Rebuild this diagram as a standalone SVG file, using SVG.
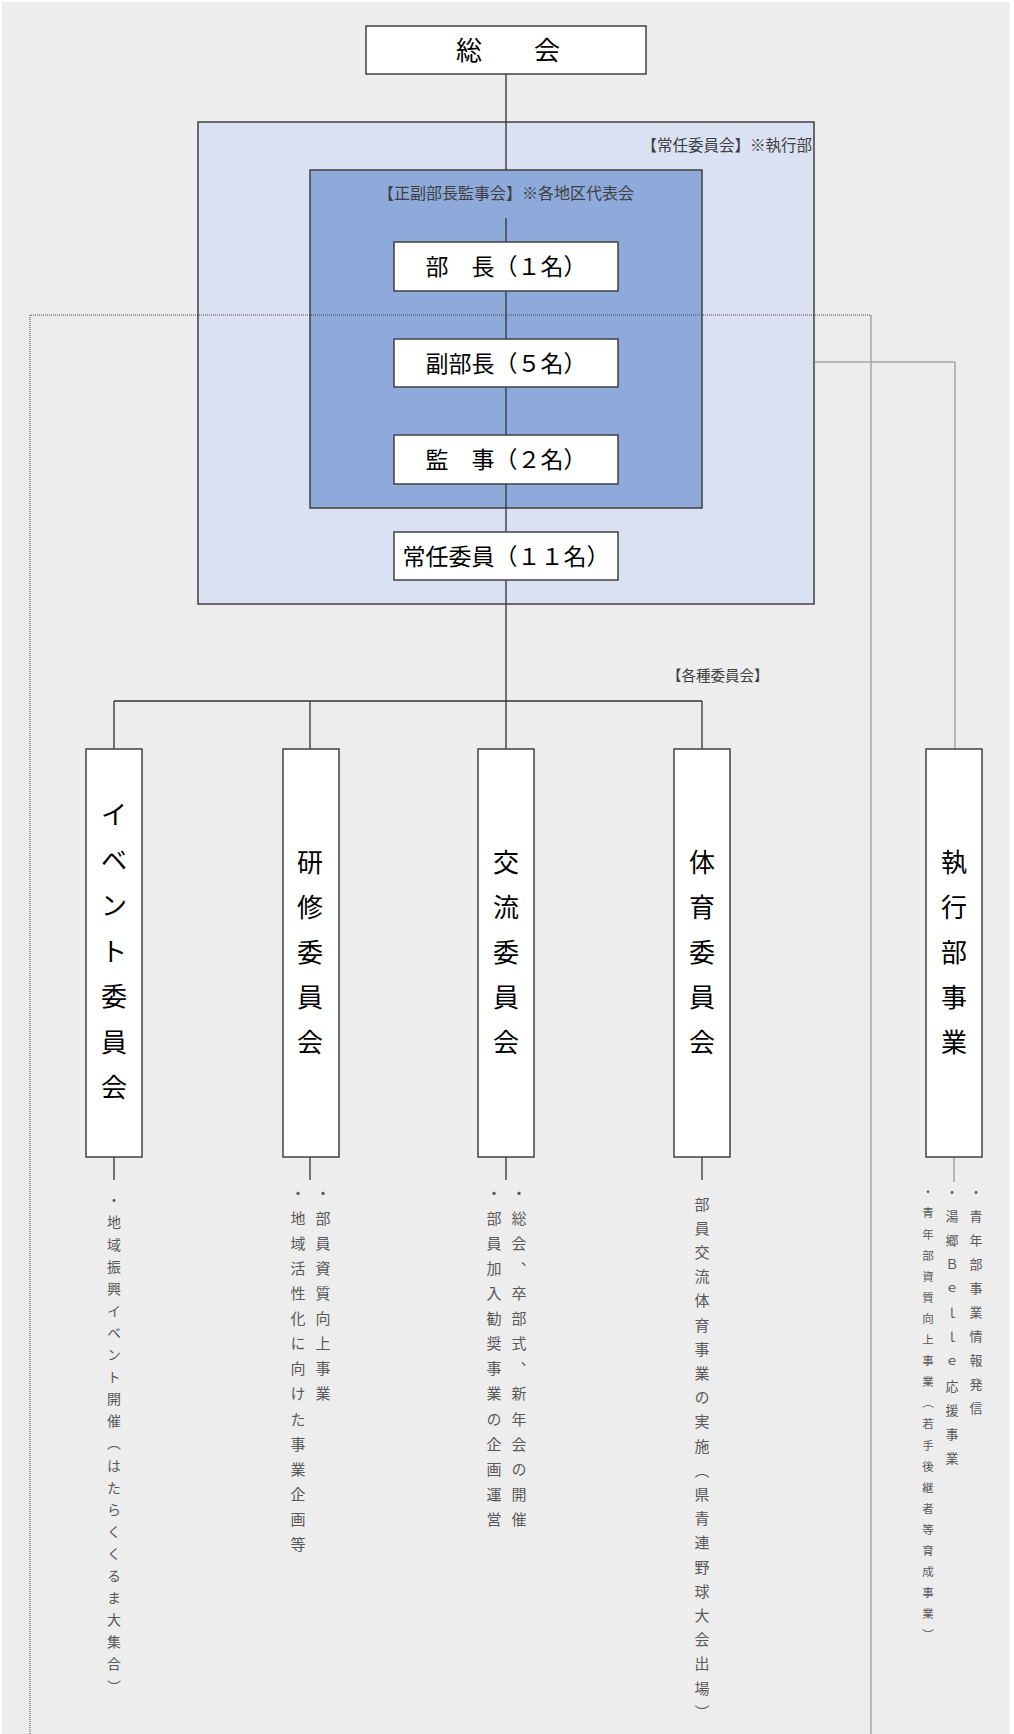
<svg xmlns="http://www.w3.org/2000/svg" width="1014" height="1734" viewBox="0 0 1014 1734">
<style>
.bg{fill:#ededed}
.fo{fill:#dae1f3;stroke:#404040;stroke-width:1.5}
.fi{fill:#8eaadb;stroke:#404040;stroke-width:1.5}
.box{fill:#fff;stroke:#404040;stroke-width:1.5}
.ln{stroke:#333;stroke-width:1.3;fill:none}
.thin{stroke:#808080;stroke-width:1;fill:none}
.dot{stroke:#444;stroke-width:1;stroke-dasharray:1 1;fill:none}
.dotr{stroke:#a6a6a6;stroke-width:1.5;fill:none}
text{font-family:"Noto Sans CJK JP","Noto Sans CJK SC",sans-serif}
.bt{font-size:23px;fill:#000;text-anchor:middle}
.lab{font-size:15.5px;fill:#404040}
.ct{font-size:26px;fill:#000;text-anchor:middle}
.v{writing-mode:vertical-rl;fill:#595959}
</style>
<rect class="bg" x="2" y="2" width="1008" height="1732"/>
<g id="jonin-frame">
<rect class="fo" x="198" y="122" width="616" height="482"/>
<text class="lab" x="812" y="151" text-anchor="end">【常任委員会】※執行部</text>
</g>
<g id="seifuku-frame">
<rect class="fi" x="310" y="170" width="392" height="338"/>
<text class="lab" x="506" y="199" text-anchor="middle" style="font-size:16px">【正副部長監事会】※各地区代表会</text>
</g>
<g id="connectors">
<path class="ln" d="M506,74 V170 M506,218 V701 M114,701 H702 M114,701 V749 M310,701 V749 M506,701 V749 M702,701 V749"/>
<path class="ln" d="M114,1157 V1180 M310,1157 V1180 M506,1157 V1180 M702,1157 V1180"/>
<path class="thin" d="M814,362 H955 V749 M954,1157 V1182"/>
<path class="dot" d="M30,1734 V315 H871"/>
<path class="dotr" d="M871,315 V1734"/>
</g>
<g id="sokai">
<rect class="box" x="366" y="26" width="280" height="48"/>
<text class="ct" x="508" y="60">総　　会</text>
</g>
<g id="bucho">
<rect class="box" x="394" y="242" width="224" height="49"/>
<text class="bt" x="506" y="275">部　長（１名）</text>
</g>
<g id="fukubucho">
<rect class="box" x="394" y="339" width="224" height="48"/>
<text class="bt" x="506" y="371.5">副部長（５名）</text>
</g>
<g id="kanji">
<rect class="box" x="394" y="435" width="224" height="49"/>
<text class="bt" x="506" y="468">監　事（２名）</text>
</g>
<g id="jonin">
<rect class="box" x="394" y="532" width="224" height="48"/>
<text class="bt" x="506" y="564.5">常任委員（１１名）</text>
</g>
<text class="lab" x="667" y="680.5" style="font-size:14.5px">【各種委員会】</text>
<g id="event">
<rect class="box" x="86" y="749" width="56" height="408"/>
<text class="ct" x="114 114 114 114 114 114 114" y="824 869.5 915 960.5 1006 1051.5 1097">イベント委員会</text>
<text class="v" x="114" y="1193" style="font-size:14px;letter-spacing:8.1px">・地域振興イベント開催（はたらくくるま大集合）</text>
</g>
<g id="kenshu">
<rect class="box" x="283" y="749" width="56" height="408"/>
<text class="ct" x="310 310 310 310 310" y="872 917 962 1007 1052">研修委員会</text>
<text class="v" x="323" y="1185.5" style="font-size:15px;letter-spacing:10.1px">・部員資質向上事業</text>
<text class="v" x="298" y="1185.5" style="font-size:15px;letter-spacing:10.1px">・地域活性化に向けた事業企画等</text>
</g>
<g id="koryu">
<rect class="box" x="478" y="749" width="56" height="408"/>
<text class="ct" x="506 506 506 506 506" y="872 917 962 1007 1052">交流委員会</text>
<text class="v" x="519" y="1185.5" style="font-size:15px;letter-spacing:10.1px">・総会、卒部式、新年会の開催</text>
<text class="v" x="494" y="1185.5" style="font-size:15px;letter-spacing:10.1px">・部員加入勧奨事業の企画運営</text>
</g>
<g id="taiiku">
<rect class="box" x="674" y="749" width="56" height="408"/>
<text class="ct" x="702 702 702 702 702" y="872 917 962 1007 1052">体育委員会</text>
<text class="v" x="702" y="1196.5" style="font-size:15px;letter-spacing:9.2px">部員交流体育事業の実施（県青連野球大会出場）</text>
</g>
<g id="shikkobu">
<rect class="box" x="926" y="749" width="56" height="408"/>
<text class="ct" x="954 954 954 954 954" y="872 917 962 1007 1052">執行部事業</text>
<text class="v" x="976" y="1185.5" style="font-size:13px;letter-spacing:11px">・青年部事業情報発信</text>
<text class="v" x="952" y="1185.5" style="font-size:13px;letter-spacing:11.2px">・湯郷Ｂｅｌｌｅ応援事業</text>
<text class="v" x="928" y="1186.2" style="font-size:11.5px;letter-spacing:9.6px">・青年部資質向上事業（若手後継者等育成事業）</text>
</g>
</svg>
